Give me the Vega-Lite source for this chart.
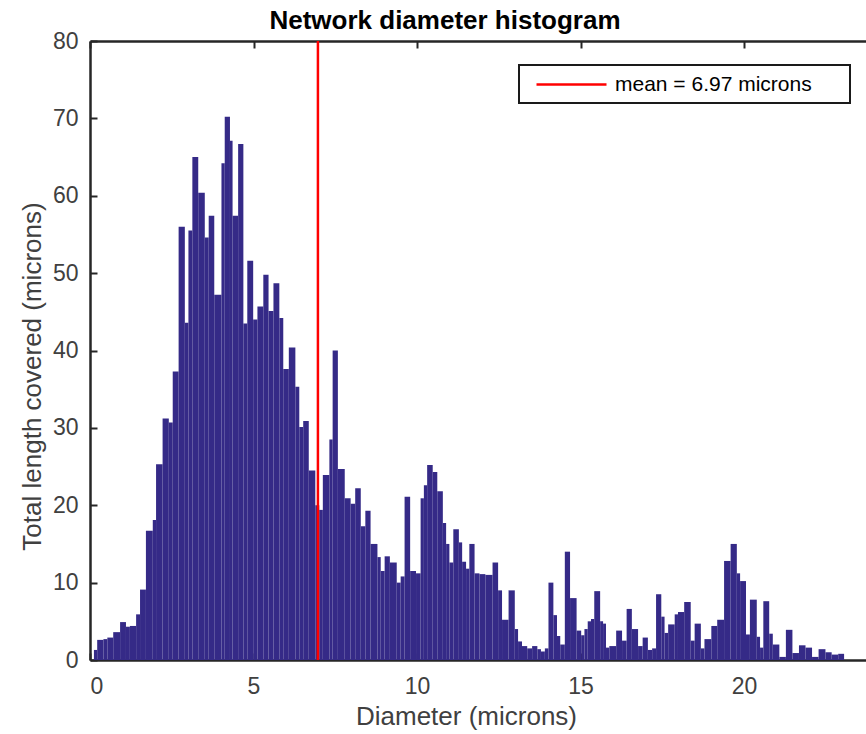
{
  "$schema": "https://vega.github.io/schema/vega-lite/v6.json",
  "width": 776,
  "height": 619,
  "autosize": "none",
  "padding": {"left": 90, "top": 41, "right": 0, "bottom": 74},
  "background": "white",
  "title": {"text": "Network diameter histogram", "font": "Liberation Sans", "fontSize": 26, "fontWeight": "bold", "color": "#000000", "offset": -4, "dx": -33},
  "config": {
    "view": {"stroke": null},
    "axis": {"grid": false, "labelFont": "Liberation Sans", "titleFont": "Liberation Sans", "labelColor": "#404040", "titleColor": "#404040", "titleFontWeight": "normal", "domainColor": "#262626", "tickColor": "#262626", "domainWidth": 2.5, "tickWidth": 2},
    "legend": {"strokeWidth": 2}
  },
  "layer": [
    {
      "data": {"values": [
        {"lo":0.12,"hi":0.22,"len":1.3},{"lo":0.22,"hi":0.41,"len":2.6},{"lo":0.41,"hi":0.53,"len":2.7},{"lo":0.53,"hi":0.71,"len":2.9},
        {"lo":0.71,"hi":0.92,"len":3.6},{"lo":0.92,"hi":1.10,"len":4.9},{"lo":1.10,"hi":1.22,"len":4.3},{"lo":1.22,"hi":1.41,"len":4.4},
        {"lo":1.41,"hi":1.53,"len":5.9},{"lo":1.53,"hi":1.71,"len":9.1},{"lo":1.71,"hi":1.92,"len":16.7},{"lo":1.92,"hi":2.02,"len":18.1},
        {"lo":2.02,"hi":2.22,"len":25.3},{"lo":2.22,"hi":2.41,"len":31.2},{"lo":2.41,"hi":2.53,"len":30.7},{"lo":2.53,"hi":2.71,"len":37.3},
        {"lo":2.71,"hi":2.90,"len":56.0},{"lo":2.90,"hi":3.01,"len":43.6},{"lo":3.01,"hi":3.13,"len":55.5},{"lo":3.13,"hi":3.31,"len":65.0},
        {"lo":3.31,"hi":3.51,"len":60.4},{"lo":3.51,"hi":3.63,"len":54.6},{"lo":3.63,"hi":3.80,"len":57.4},{"lo":3.80,"hi":4.02,"len":47.2},
        {"lo":4.02,"hi":4.12,"len":64.2},{"lo":4.12,"hi":4.28,"len":70.2},{"lo":4.28,"hi":4.36,"len":67.1},{"lo":4.36,"hi":4.53,"len":57.4},
        {"lo":4.53,"hi":4.69,"len":66.7},{"lo":4.69,"hi":4.81,"len":43.5},{"lo":4.81,"hi":4.99,"len":51.6},{"lo":4.99,"hi":5.12,"len":44.0},
        {"lo":5.12,"hi":5.30,"len":45.7},{"lo":5.30,"hi":5.46,"len":49.8},{"lo":5.46,"hi":5.61,"len":45.1},{"lo":5.61,"hi":5.79,"len":48.7},
        {"lo":5.79,"hi":5.91,"len":44.2},{"lo":5.91,"hi":6.08,"len":37.6},{"lo":6.08,"hi":6.28,"len":40.4},{"lo":6.28,"hi":6.40,"len":35.3},
        {"lo":6.40,"hi":6.52,"len":30.1},{"lo":6.52,"hi":6.69,"len":30.9},{"lo":6.69,"hi":6.89,"len":24.5},{"lo":6.89,"hi":7.01,"len":20.0},
        {"lo":7.01,"hi":7.12,"len":19.4},{"lo":7.12,"hi":7.32,"len":23.9},{"lo":7.32,"hi":7.42,"len":28.5},{"lo":7.42,"hi":7.58,"len":40.0},
        {"lo":7.58,"hi":7.79,"len":24.7},{"lo":7.79,"hi":7.97,"len":20.9},{"lo":7.97,"hi":8.11,"len":20.2},{"lo":8.11,"hi":8.28,"len":22.2},
        {"lo":8.28,"hi":8.42,"len":17.3},{"lo":8.42,"hi":8.58,"len":19.3},{"lo":8.58,"hi":8.79,"len":15.0},{"lo":8.79,"hi":8.89,"len":13.3},
        {"lo":8.89,"hi":9.01,"len":11.5},{"lo":9.01,"hi":9.17,"len":13.4},{"lo":9.17,"hi":9.38,"len":12.6},{"lo":9.38,"hi":9.50,"len":10.0},
        {"lo":9.50,"hi":9.62,"len":10.8},{"lo":9.62,"hi":9.79,"len":21.1},{"lo":9.79,"hi":9.97,"len":11.5},{"lo":9.97,"hi":10.11,"len":11.2},
        {"lo":10.11,"hi":10.21,"len":20.9},{"lo":10.21,"hi":10.31,"len":22.6},{"lo":10.31,"hi":10.48,"len":25.2},{"lo":10.48,"hi":10.62,"len":24.3},
        {"lo":10.62,"hi":10.79,"len":21.8},{"lo":10.79,"hi":10.89,"len":17.7},{"lo":10.89,"hi":10.99,"len":15.0},{"lo":10.99,"hi":11.11,"len":12.6},
        {"lo":11.11,"hi":11.28,"len":16.9},{"lo":11.28,"hi":11.38,"len":15.2},{"lo":11.38,"hi":11.50,"len":12.7},{"lo":11.50,"hi":11.60,"len":11.8},
        {"lo":11.60,"hi":11.76,"len":15.0},{"lo":11.76,"hi":11.91,"len":11.2},{"lo":11.91,"hi":12.09,"len":11.1},{"lo":12.09,"hi":12.31,"len":11.0},
        {"lo":12.31,"hi":12.48,"len":12.6},{"lo":12.48,"hi":12.60,"len":9.0},{"lo":12.60,"hi":12.80,"len":5.2},{"lo":12.80,"hi":12.99,"len":9.0},
        {"lo":12.99,"hi":13.09,"len":4.0},{"lo":13.09,"hi":13.21,"len":2.4},{"lo":13.21,"hi":13.37,"len":1.8},{"lo":13.37,"hi":13.52,"len":1.5},
        {"lo":13.52,"hi":13.68,"len":1.8},{"lo":13.68,"hi":13.79,"len":1.4},{"lo":13.79,"hi":13.91,"len":1.1},{"lo":13.91,"hi":14.02,"len":1.5},
        {"lo":14.02,"hi":14.17,"len":10.0},{"lo":14.17,"hi":14.28,"len":5.8},{"lo":14.28,"hi":14.38,"len":3.1},{"lo":14.38,"hi":14.52,"len":2.0},
        {"lo":14.52,"hi":14.68,"len":14.0},{"lo":14.68,"hi":14.88,"len":8.0},{"lo":14.88,"hi":15.02,"len":3.8},{"lo":15.02,"hi":15.12,"len":3.2},
        {"lo":15.12,"hi":15.22,"len":4.0},{"lo":15.22,"hi":15.32,"len":5.0},{"lo":15.32,"hi":15.42,"len":5.3},{"lo":15.42,"hi":15.60,"len":8.9},
        {"lo":15.60,"hi":15.69,"len":5.0},{"lo":15.69,"hi":15.78,"len":4.7},{"lo":15.78,"hi":15.88,"len":1.6},{"lo":15.88,"hi":16.09,"len":1.8},
        {"lo":16.09,"hi":16.27,"len":3.8},{"lo":16.27,"hi":16.41,"len":2.5},{"lo":16.41,"hi":16.57,"len":6.6},{"lo":16.57,"hi":16.76,"len":4.0},
        {"lo":16.76,"hi":16.90,"len":1.8},{"lo":16.90,"hi":17.06,"len":2.9},{"lo":17.06,"hi":17.19,"len":1.3},{"lo":17.19,"hi":17.31,"len":1.5},
        {"lo":17.31,"hi":17.47,"len":8.5},{"lo":17.47,"hi":17.57,"len":5.6},{"lo":17.57,"hi":17.68,"len":3.5},{"lo":17.68,"hi":17.88,"len":4.6},
        {"lo":17.88,"hi":17.98,"len":5.9},{"lo":17.98,"hi":18.17,"len":6.2},{"lo":18.17,"hi":18.37,"len":7.5},{"lo":18.37,"hi":18.49,"len":2.5},
        {"lo":18.49,"hi":18.68,"len":4.7},{"lo":18.68,"hi":18.79,"len":1.5},{"lo":18.79,"hi":19.00,"len":2.7},{"lo":19.00,"hi":19.18,"len":4.4},
        {"lo":19.18,"hi":19.39,"len":5.2},{"lo":19.39,"hi":19.59,"len":12.8},{"lo":19.59,"hi":19.78,"len":15.0},{"lo":19.78,"hi":19.88,"len":11.2},
        {"lo":19.88,"hi":20.06,"len":10.2},{"lo":20.06,"hi":20.18,"len":3.3},{"lo":20.18,"hi":20.39,"len":7.8},{"lo":20.39,"hi":20.49,"len":3.0},
        {"lo":20.49,"hi":20.59,"len":1.6},{"lo":20.59,"hi":20.77,"len":7.6},{"lo":20.77,"hi":20.88,"len":3.4},{"lo":20.88,"hi":21.08,"len":2.0},
        {"lo":21.08,"hi":21.28,"len":0.4},{"lo":21.28,"hi":21.48,"len":3.9},{"lo":21.48,"hi":21.68,"len":0.9},{"lo":21.68,"hi":21.88,"len":1.9},
        {"lo":21.88,"hi":22.08,"len":1.6},{"lo":22.08,"hi":22.28,"len":0.4},{"lo":22.28,"hi":22.49,"len":1.4},{"lo":22.49,"hi":22.68,"len":1.0},
        {"lo":22.68,"hi":22.88,"len":0.7},{"lo":22.88,"hi":23.06,"len":0.8}
      ]},
      "mark": {"type": "rect", "color": "#352a87"},
      "encoding": {
        "x": {"field": "lo", "type": "quantitative",
              "scale": {"domain": [0, 23.73], "nice": false, "zero": false},
              "axis": {"orient": "bottom", "values": [0, 5, 10, 15, 20], "tickSize": -7, "labelPadding": 22, "labelFontSize": 23, "title": "Diameter (microns)", "titleFontSize": 26, "titlePadding": 5, "titleX": 376}},
        "x2": {"field": "hi"},
        "y": {"field": "len", "type": "quantitative",
              "scale": {"domain": [0, 80], "nice": false},
              "axis": {"values": [0, 10, 20, 30, 40, 50, 60, 70, 80], "tickSize": -7, "labelPadding": 19, "labelFontSize": 23, "title": "Total length covered (microns)", "titleFontSize": 26, "titlePadding": 7, "titleY": 335}},
        "y2": {"datum": 0}
      }
    },
    {
      "data": {"values": [{"mean": 6.97, "series": "mean = 6.97 microns"}]},
      "mark": {"type": "rule", "strokeWidth": 2.5},
      "encoding": {
        "x": {"field": "mean", "type": "quantitative",
              "axis": {"orient": "top", "values": [0, 5, 10, 15, 20], "tickSize": -7, "labels": false, "title": null}},
        "color": {"field": "series", "type": "nominal", "scale": {"range": ["#ff0000"]},
                  "legend": {"orient": "none", "legendX": 429, "legendY": 24, "title": null, "strokeColor": "#1a1a1a", "fillColor": "#ffffff", "padding": 8, "symbolType": "M-3.5,0H3.5", "symbolSize": 400, "symbolStrokeWidth": 2.5, "symbolOffset": 33, "labelFont": "Liberation Sans", "labelFontSize": 21, "labelColor": "#000000", "labelOffset": 32, "labelLimit": 500, "labelExpr": "datum.label + '\u2800\u2800'"}}
      }
    }
  ]
}
